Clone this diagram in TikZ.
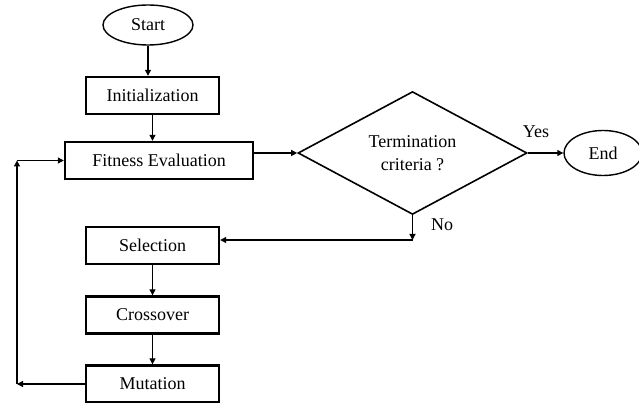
\documentclass[tikz,border=0pt]{standalone}
\usepackage{fontspec}
\setmainfont{Liberation Serif}
\usetikzlibrary{shapes.geometric,arrows.meta,positioning}

\begin{document}
\begin{tikzpicture}[x=1pt,y=-1pt,
    font=\fontsize{18}{21}\selectfont,
    stepbox/.style={draw,line width=2.4pt,minimum width=133pt,minimum height=37pt,inner sep=0pt},
    terminal/.style={draw,ellipse,line width=1.4pt,minimum width=90pt,minimum height=40pt,inner sep=0pt},
    decision/.style={draw,diamond,line width=1.6pt,minimum width=229pt,minimum height=97pt,inner sep=0pt,align=center},
    flow/.style={-{Triangle[length=6pt,width=6pt]},line width=1.2pt}]
  \useasboundingbox (0,0) rectangle (639,403);
  % main chain
  \node[terminal] (start) at (148,25) {Start};
  \node[stepbox] (init) at (152.5,95.5) {Initialization};
  \node[stepbox,minimum width=188pt] (fit) at (159,160.5) {Fitness Evaluation};
  \node[decision] (term) at (412.5,153) {Termination\\[2pt]criteria ?};
  \node[terminal,minimum width=78pt,minimum height=45pt] (end) at (603,153) {End};
  % operators
  \node[stepbox] (sel) at (152.5,245.5) {Selection};
  \node[stepbox] (cross) at (152.5,315) {Crossover};
  \node[stepbox] (mut) at (152.5,384) {Mutation};
  % labels
  \node (yes) at (536,132) {Yes};
  \node (no) at (442,225) {No};
  % helper points
  \coordinate (nobend) at (term.south |- 0,240);
  \coordinate (fbl) at (17,384);
  \coordinate (ftl) at (17,160.5);

  \draw[flow] (start) -- (start |- init.north);
  \draw[flow] (init) -- (init |- fit.north);
  \draw[flow] (fit.east |- term.west) -- (term.west);
  \draw[flow] (term) -- (end);
  \draw[flow] (term.south) -- (nobend);
  \draw[flow] (nobend) -- (sel.east |- nobend);
  \draw[flow] (sel) -- (cross);
  \draw[flow] (cross) -- (mut);
  % feedback loop
  \draw[flow] (mut) -- (fbl);
  \draw[flow] (fbl) -- (ftl);
  \draw[flow] (ftl) -- (fit);
\end{tikzpicture}
\end{document}
